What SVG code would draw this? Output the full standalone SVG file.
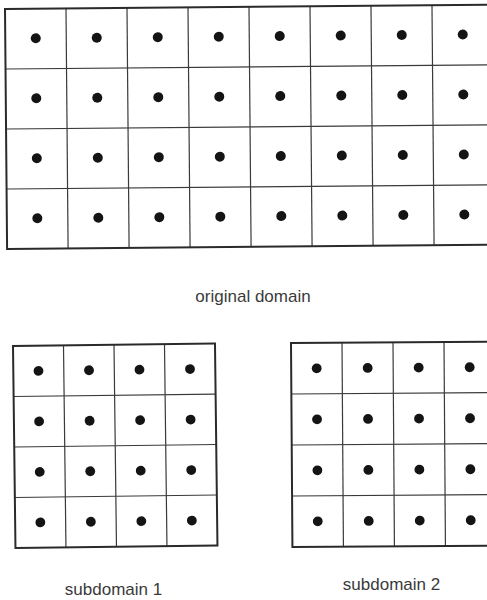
<svg xmlns="http://www.w3.org/2000/svg" width="487" height="600" viewBox="0 0 487 600">
<style>
.bg{fill:#fff}
.grid{stroke:#3a3a3a;stroke-width:1.2;fill:none}
.border{stroke:#2a2a2a;stroke-width:2;fill:none}
.dot{fill:#141414}
.lbl{font-family:"Liberation Sans",Arial,sans-serif;font-size:17px;fill:#3a3a3a;text-anchor:middle}
</style>
<rect class="bg" x="0" y="0" width="487" height="600"/>
<g id="original-domain" transform="rotate(-0.5 5 9)">
  <g class="grid">
    <line x1="66" y1="9" x2="66" y2="249"/>
    <line x1="127" y1="9" x2="127" y2="249"/>
    <line x1="188" y1="9" x2="188" y2="249"/>
    <line x1="249" y1="9" x2="249" y2="249"/>
    <line x1="310" y1="9" x2="310" y2="249"/>
    <line x1="371" y1="9" x2="371" y2="249"/>
    <line x1="432" y1="9" x2="432" y2="249"/>
    <line x1="5" y1="69" x2="500" y2="69"/>
    <line x1="5" y1="129" x2="500" y2="129"/>
    <line x1="5" y1="189" x2="500" y2="189"/>
  </g>
  <path class="border" d="M500 9 H5 V249 H500"/>
  <g class="dot">
    <circle cx="35.5" cy="38.5" r="5"/><circle cx="96.5" cy="38.5" r="5"/><circle cx="157.5" cy="38.5" r="5"/><circle cx="218.5" cy="38.5" r="5"/><circle cx="279.5" cy="38.5" r="5"/><circle cx="340.5" cy="38.5" r="5"/><circle cx="401.5" cy="38.5" r="5"/><circle cx="462.5" cy="38.5" r="5"/>
    <circle cx="35.5" cy="98.5" r="5"/><circle cx="96.5" cy="98.5" r="5"/><circle cx="157.5" cy="98.5" r="5"/><circle cx="218.5" cy="98.5" r="5"/><circle cx="279.5" cy="98.5" r="5"/><circle cx="340.5" cy="98.5" r="5"/><circle cx="401.5" cy="98.5" r="5"/><circle cx="462.5" cy="98.5" r="5"/>
    <circle cx="35.5" cy="158.5" r="5"/><circle cx="96.5" cy="158.5" r="5"/><circle cx="157.5" cy="158.5" r="5"/><circle cx="218.5" cy="158.5" r="5"/><circle cx="279.5" cy="158.5" r="5"/><circle cx="340.5" cy="158.5" r="5"/><circle cx="401.5" cy="158.5" r="5"/><circle cx="462.5" cy="158.5" r="5"/>
    <circle cx="35.5" cy="218.5" r="5"/><circle cx="96.5" cy="218.5" r="5"/><circle cx="157.5" cy="218.5" r="5"/><circle cx="218.5" cy="218.5" r="5"/><circle cx="279.5" cy="218.5" r="5"/><circle cx="340.5" cy="218.5" r="5"/><circle cx="401.5" cy="218.5" r="5"/><circle cx="462.5" cy="218.5" r="5"/>
  </g>
</g>
<g id="subdomain-1" transform="rotate(-0.7 13 346)">
  <g class="grid">
    <line x1="63.5" y1="346" x2="63.5" y2="548"/>
    <line x1="114" y1="346" x2="114" y2="548"/>
    <line x1="164.5" y1="346" x2="164.5" y2="548"/>
    <line x1="13" y1="396.5" x2="215" y2="396.5"/>
    <line x1="13" y1="447" x2="215" y2="447"/>
    <line x1="13" y1="497.5" x2="215" y2="497.5"/>
  </g>
  <rect class="border" x="13" y="346" width="202" height="202"/>
  <g class="dot">
    <circle cx="38.2" cy="371.2" r="4.9"/><circle cx="88.7" cy="371.2" r="4.9"/><circle cx="139.2" cy="371.2" r="4.9"/><circle cx="189.7" cy="371.2" r="4.9"/>
    <circle cx="38.2" cy="421.7" r="4.9"/><circle cx="88.7" cy="421.7" r="4.9"/><circle cx="139.2" cy="421.7" r="4.9"/><circle cx="189.7" cy="421.7" r="4.9"/>
    <circle cx="38.2" cy="472.2" r="4.9"/><circle cx="88.7" cy="472.2" r="4.9"/><circle cx="139.2" cy="472.2" r="4.9"/><circle cx="189.7" cy="472.2" r="4.9"/>
    <circle cx="38.2" cy="522.7" r="4.9"/><circle cx="88.7" cy="522.7" r="4.9"/><circle cx="139.2" cy="522.7" r="4.9"/><circle cx="189.7" cy="522.7" r="4.9"/>
  </g>
</g>
<g id="subdomain-2" transform="rotate(-0.4 291 343)">
  <g class="grid">
    <line x1="342" y1="343" x2="342" y2="547"/>
    <line x1="393" y1="343" x2="393" y2="547"/>
    <line x1="444" y1="343" x2="444" y2="547"/>
    <line x1="291" y1="394" x2="495" y2="394"/>
    <line x1="291" y1="445" x2="495" y2="445"/>
    <line x1="291" y1="496" x2="495" y2="496"/>
  </g>
  <rect class="border" x="291" y="343" width="204" height="204"/>
  <g class="dot">
    <circle cx="316.5" cy="368.5" r="4.9"/><circle cx="367.5" cy="368.5" r="4.9"/><circle cx="418.5" cy="368.5" r="4.9"/><circle cx="469.5" cy="368.5" r="4.9"/>
    <circle cx="316.5" cy="419.5" r="4.9"/><circle cx="367.5" cy="419.5" r="4.9"/><circle cx="418.5" cy="419.5" r="4.9"/><circle cx="469.5" cy="419.5" r="4.9"/>
    <circle cx="316.5" cy="470.5" r="4.9"/><circle cx="367.5" cy="470.5" r="4.9"/><circle cx="418.5" cy="470.5" r="4.9"/><circle cx="469.5" cy="470.5" r="4.9"/>
    <circle cx="316.5" cy="521.5" r="4.9"/><circle cx="367.5" cy="521.5" r="4.9"/><circle cx="418.5" cy="521.5" r="4.9"/><circle cx="469.5" cy="521.5" r="4.9"/>
  </g>
</g>
<g id="labels">
  <text class="lbl" x="253" y="302">original domain</text>
  <text class="lbl" x="113.5" y="595">subdomain 1</text>
  <text class="lbl" x="391.5" y="590">subdomain 2</text>
</g>
</svg>
